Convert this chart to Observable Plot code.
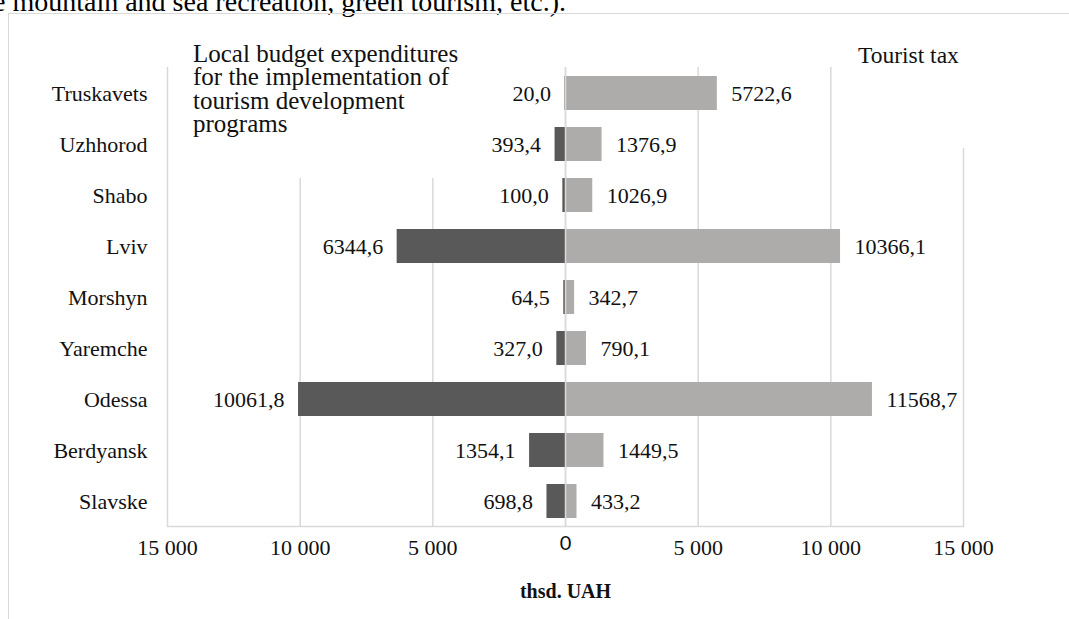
<!DOCTYPE html>
<html>
<head>
<meta charset="utf-8">
<script src="https://cdn.jsdelivr.net/npm/d3@7"></script>
<script src="https://cdn.jsdelivr.net/npm/@observablehq/plot@0.6"></script>
<style>
  html, body { margin: 0; padding: 0; background: #fff; }
  body { width: 1069px; height: 619px; position: relative; overflow: hidden; font-family: "Liberation Serif", "Times New Roman", serif; color: #111; }
  #frame { position: absolute; left: 8px; top: 13px; width: 1200px; height: 700px; border: 1px solid #d9d9d9; box-sizing: border-box; }
  #toptext { position: absolute; left: -7px; top: -12px; font-size: 28px; line-height: 28px; white-space: nowrap; color: #000; }
  #chart { position: absolute; left: 0; top: 0; }
  .box { position: absolute; background: #fff; font-size: 25px; line-height: 23.3px; color: #111; }
  #leftbox { left: 190px; top: 42px; width: 280px; height: 136px; padding-left: 3px; box-sizing: border-box; }
  #rightbox { left: 845px; top: 44px; width: 150px; height: 104px; padding-left: 13px; box-sizing: border-box; font-size: 23.5px; }
</style>
</head>
<body>
<div id="toptext">e mountain and sea recreation, green tourism, etc.).</div>
<div id="frame"></div>
<div id="chart"></div>
<div class="box" id="leftbox">Local budget expenditures<br>for the implementation of<br>tourism development<br>programs</div>
<div class="box" id="rightbox">Tourist tax</div>
<script>
const cities = ["Truskavets", "Uzhhorod", "Shabo", "Lviv", "Morshyn", "Yaremche", "Odessa", "Berdyansk", "Slavske"];
const expenditures = [20.0, 393.4, 100.0, 6344.6, 64.5, 327.0, 10061.8, 1354.1, 698.8];
const touristTax = [5722.6, 1376.9, 1026.9, 10366.1, 342.7, 790.1, 11568.7, 1449.5, 433.2];
const xTicks = [-15000, -10000, -5000, 0, 5000, 10000, 15000];
const axisTitle = "thsd. UAH";

const data = cities.map((c, i) => ({city: c, exp: expenditures[i], tax: touristTax[i]}));
const fmtVal = v => v.toFixed(1).replace(".", ",");
const fmtTick = v => d3.format(",")(Math.abs(v)).replace(/,/g, " ");
const serif = "Liberation Serif, Times New Roman, serif";

const chart = Plot.plot({
  width: 1069,
  height: 619,
  marginLeft: 167,
  marginRight: 106,
  marginTop: 67,
  marginBottom: 93,
  style: {fontFamily: serif, fontSize: "22px", background: "transparent", color: "#111"},
  x: {domain: [-15000, 15000], axis: null},
  y: {domain: cities, paddingInner: 1/3, paddingOuter: 1/6, axis: null},
  marks: [
    Plot.gridX(xTicks, {stroke: "#d9d9d9", strokeOpacity: 1, strokeWidth: 1.5}),
    Plot.frame({anchor: "bottom", stroke: "#d9d9d9", strokeWidth: 1.5}),
    Plot.barX(data, {x1: 0, x2: d => -d.exp, y: "city", fill: "#595959"}),
    Plot.barX(data, {x1: 0, x2: "tax", y: "city", fill: "#aeabab"}),
    Plot.ruleX([0], {stroke: "#d9d9d9", strokeWidth: 1.5}),
    Plot.text(data, {x: d => -d.exp, y: "city", text: d => fmtVal(d.exp), textAnchor: "end", dx: -14, fill: "#111"}),
    Plot.text(data, {x: "tax", y: "city", text: d => fmtVal(d.tax), textAnchor: "start", dx: 14, fill: "#111"}),
    Plot.text(cities, {y: d => d, frameAnchor: "left", textAnchor: "end", dx: -20, fill: "#111"}),
    Plot.text(xTicks.filter(t => t !== 0), {x: d => d, text: fmtTick, frameAnchor: "bottom", dy: 28, fill: "#111"}),
    Plot.text([0], {x: d => d, text: d => String(d), frameAnchor: "bottom", dy: 23, fontFamily: "Lato, Open Sans, sans-serif", fontSize: 20, fill: "#111"}),
    Plot.text([axisTitle], {x: () => 0, text: d => d, frameAnchor: "bottom", dy: 71, fontWeight: "bold", fontSize: 20, fill: "#111"})
  ]
});
document.getElementById("chart").appendChild(chart);
</script>
</body>
</html>
